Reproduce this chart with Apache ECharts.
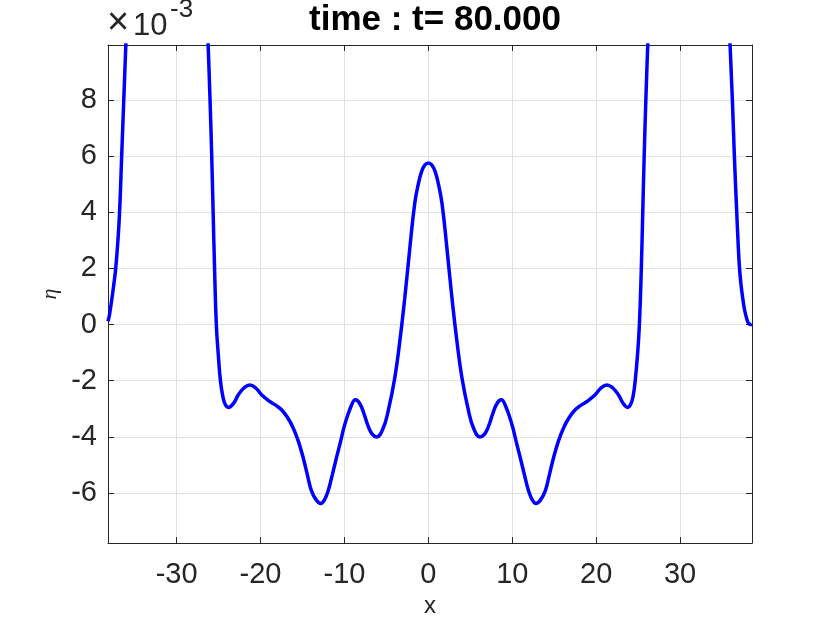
<!DOCTYPE html>
<html><head><meta charset="utf-8">
<script src="https://cdn.jsdelivr.net/npm/echarts@6/dist/echarts.min.js"></script>
<style>html,body{margin:0;padding:0;background:#fff}#c{width:830px;height:623px}</style>
</head><body><div id="c"></div>
<script>
// x positions and eta values (units of 1e-3)
const xValues = [
  -38.18, -38.0, -37.75, -37.5, -37.26, -37.02, -36.8, -36.55, -36.3, -36.05, -35.75, -35.2, -34.0, -32.8, -31.5,
  -30.6, -28.6, -27.3, -26.6, -26.25, -26.02, -25.82, -25.65, -25.48, -25.27, -25.03, -24.78, -24.5, -24.2,
  -23.85, -23.2, -22.65, -21.95, -21.27, -20.6, -19.88, -18.89, -18.2, -17.5, -16.8, -16.11, -15.5, -14.92,
  -14.42, -13.93, -13.35, -12.82, -12.4, -11.94, -11.45, -10.95, -10.45, -9.96, -9.2, -8.69, -8.2, -7.7,
  -7.2, -6.7, -6.15, -5.4, -4.8, -4.01, -3.41, -2.82, -2.22, -1.63, -1.2, -0.8, -0.4,
  0,
  0.4, 0.8, 1.2, 1.63, 2.22, 2.82, 3.41, 4.01, 4.8, 5.4, 6.15, 6.7, 7.2, 7.7, 8.2, 8.69, 9.2, 9.96, 10.45,
  10.95, 11.45, 11.94, 12.4, 12.82, 13.35, 13.93, 14.42, 14.92, 15.5, 16.11, 16.8, 17.5, 18.2, 18.89,
  19.88, 20.6, 21.27, 21.95, 22.65, 23.2, 23.75, 24.1, 24.4, 24.65, 24.92, 25.15, 25.38, 25.55, 25.72,
  25.92, 26.15, 26.5, 27.2, 28.5, 30.5, 32.5, 34.0, 35.2, 35.95, 36.23, 36.47, 36.75, 36.9, 37.06, 37.25, 37.46,
  37.7, 37.95, 38.15, 38.4, 38.57
];
const etaValues = [
  0.12, 0.35, 0.85, 1.4, 2.0, 2.9, 4.0, 6.0, 8.0, 10.0, 12.6, 17.5, 28, 35, 39,
  38, 30, 19, 13, 10.0, 8.0, 6.0, 4.0, 2.0, 0.0, -1.1, -2.0, -2.55, -2.85,
  -2.95, -2.8, -2.5, -2.25, -2.15, -2.25, -2.5, -2.74, -2.87, -3.03, -3.3, -3.68, -4.15, -4.74,
  -5.35, -5.92, -6.25, -6.37, -6.25, -5.92, -5.35, -4.74, -4.15, -3.56, -2.9, -2.68, -2.8, -3.15,
  -3.6, -3.9, -4.0, -3.7, -3.09, -1.91, -0.61, 0.92, 2.69, 4.3, 5.0, 5.45, 5.68,
  5.75,
  5.68, 5.45, 5.0, 4.3, 2.69, 0.92, -0.61, -1.91, -3.09, -3.7, -4.0, -3.9, -3.6, -3.15, -2.8, -2.68, -2.9, -3.56, -4.15,
  -4.74, -5.35, -5.92, -6.25, -6.37, -6.25, -5.92, -5.35, -4.74, -4.15, -3.68, -3.3, -3.03, -2.87, -2.74,
  -2.5, -2.25, -2.15, -2.25, -2.5, -2.8, -2.95, -2.85, -2.55, -2.0, -1.1, 0.0, 2.0, 4.0, 6.0,
  8.0, 10.0, 13, 19, 30, 38, 36, 26, 16, 10.0, 8.0, 6.0, 4.0, 3.0, 2.1, 1.45, 0.95,
  0.5, 0.2, 0.05, 0.0, 0.02
];
const xTicks = [-30, -20, -10, 0, 10, 20, 30];
const yTicks = [-6, -4, -2, 0, 2, 4, 6, 8];
const titleText = 'time : t= 80.000';

const xMin = -38.18, xMax = 38.57, yMin = -7.78, yMax = 9.95;
const axisColor = '#262626';
const gridColor = '#e1e1e1';
const font = 'Liberation Sans, Arial, Helvetica, sans-serif';

const chart = echarts.init(document.getElementById('c'), null, {renderer: 'canvas'});
const pts = xValues.map((x, i) => [x, etaValues[i]]);

chart.setOption({
  animation: false,
  backgroundColor: '#ffffff',
  title: {
    text: titleText, left: 430, top: -2, textAlign: 'center',
    textStyle: {fontFamily: font, fontWeight: 'bold', fontSize: 35, color: '#000'}
  },
  graphic: [
    {type: 'text', x: 107, y: 5, style: {text: '×', fontFamily: font, fontSize: 38, fill: axisColor, verticalAlign: 'top'}},
    {type: 'text', x: 133, y: 11, style: {text: '10', fontFamily: font, fontSize: 31, fill: axisColor, verticalAlign: 'top'}},
    {type: 'text', x: 170, y: -3, style: {text: '-3', fontFamily: font, fontSize: 26, fill: axisColor, verticalAlign: 'top'}}
  ],
  grid: {left: 108, top: 45, width: 644, height: 500.7, containLabel: false},
  xAxis: [{
    type: 'value', min: xMin, max: xMax, position: 'bottom',
    axisLine: {show: true, onZero: false, lineStyle: {color: axisColor, width: 1}},
    axisTick: {show: true, inside: true, length: 6, customValues: xTicks, lineStyle: {color: axisColor}},
    axisLabel: {customValues: xTicks, fontFamily: font, fontSize: 29, color: axisColor, margin: 17},
    splitLine: {show: true, lineStyle: {color: gridColor, width: 1}},
    name: 'x', nameLocation: 'middle', nameGap: 50,
    nameTextStyle: {fontFamily: font, fontSize: 24, color: axisColor}
  }, {
    type: 'value', min: xMin, max: xMax, position: 'top',
    axisLine: {show: true, onZero: false, lineStyle: {color: axisColor, width: 1}},
    axisTick: {show: true, inside: true, length: 6, customValues: xTicks, lineStyle: {color: axisColor}},
    axisLabel: {show: false}, splitLine: {show: false}
  }],
  yAxis: [{
    type: 'value', min: yMin, max: yMax, position: 'left',
    axisLine: {show: true, onZero: false, lineStyle: {color: axisColor, width: 1}},
    axisTick: {show: true, inside: true, length: 6, customValues: yTicks, lineStyle: {color: axisColor}},
    axisLabel: {customValues: yTicks, fontFamily: font, fontSize: 29, color: axisColor, margin: 11},
    splitLine: {show: true, lineStyle: {color: gridColor, width: 1}},
    name: 'η', nameLocation: 'middle', nameGap: 47, nameRotate: 90, nameMoveOverlap: false,
    nameTextStyle: {fontFamily: 'Liberation Serif, serif', fontStyle: 'italic', fontSize: 22, color: axisColor}
  }, {
    type: 'value', min: yMin, max: yMax, position: 'right',
    axisLine: {show: true, onZero: false, lineStyle: {color: axisColor, width: 1}},
    axisTick: {show: true, inside: true, length: 6, customValues: yTicks, lineStyle: {color: axisColor}},
    axisLabel: {show: false}, splitLine: {show: false}
  }],
  series: [{
    type: 'line', xAxisIndex: 0, yAxisIndex: 0, data: pts,
    showSymbol: false, smooth: 0.45, clip: true,
    lineStyle: {color: '#0000ff', width: 3.5}
  }]
});
</script></body></html>
